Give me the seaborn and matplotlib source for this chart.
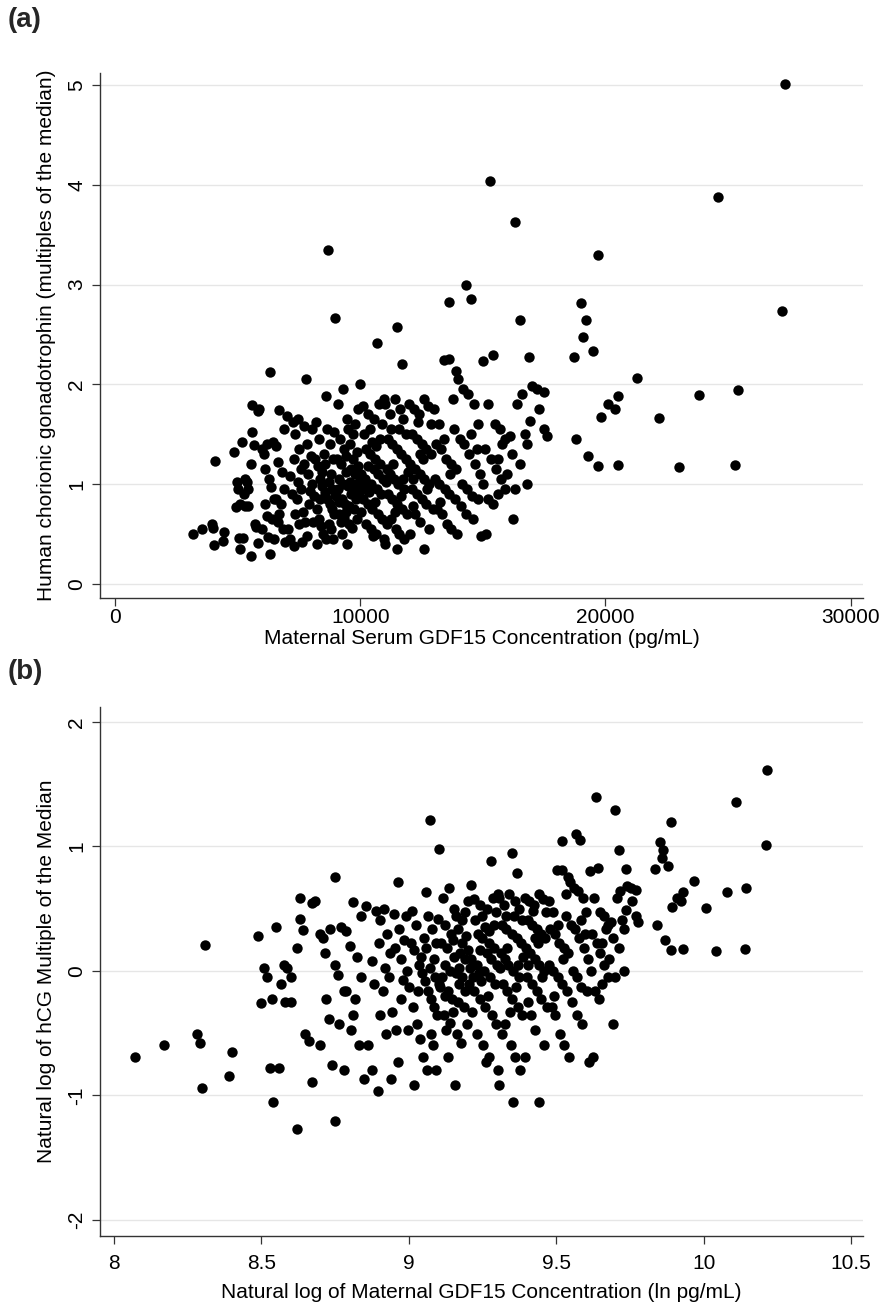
import numpy as np
import pandas as pd
import matplotlib
matplotlib.use("Agg")
import matplotlib.pyplot as plt
import seaborn as sns

# ---- data: maternal serum GDF15 (pg/mL) and hCG MoM ----
gdf15 = [
    3200, 3530, 3950, 3990, 4020, 4060, 4400, 4450, 4860, 4915, 4960, 5010, 5060, 5110,
    5160, 5210, 5260, 5320, 5370, 5430, 5430, 5540, 5600, 5600, 5660, 5770, 5830, 5830,
    5890, 6000, 6060, 6120, 6180, 6240, 6310, 6310, 6370, 6430, 6500, 6560, 6630,
    5100, 5300, 5550, 5700, 6100, 6300, 6500, 6000, 6400, 6550, 6200,
    6700, 6800, 6900, 6750, 6850, 6950, 6650, 6900, 6700, 7000, 7050, 7150, 7200, 7250,
    7300, 7320, 7350, 7420, 7450, 7480, 7500, 7520, 7580, 7620, 7650, 7700, 7720, 7750,
    7800, 7820, 7850, 7880, 7900, 7950, 7150, 7600, 7350, 7980,
    8020, 8050, 8080, 8120, 8150, 8200, 8220, 8240, 8260, 8300, 8320, 8350, 8380, 8420,
    8440, 8460, 8500, 8520, 8550, 8580, 8600, 8620, 8640, 8660, 8700, 8710, 8730, 8750,
    8780, 8800, 8820, 8840, 8860, 8880, 8900, 8920, 8950, 8980, 8990,
    9020, 9050, 9080, 9100, 9120, 9150, 9170, 9200, 9220, 9240, 9260, 9300, 9310, 9330,
    9350, 9380, 9400, 9420, 9440, 9470, 9500, 9510, 9530, 9560, 9590, 9610, 9630, 9660,
    9690, 9700, 9720, 9760, 9790, 9800, 9820, 9850, 9880, 9900, 9920, 9950, 9970, 9600,
    9150, 9450,
    10000, 10020, 10050, 10080, 10100, 10120, 10150, 10200, 10220, 10250, 10280, 10300,
    10320, 10350, 10380, 10400, 10420, 10450, 10480, 10500, 10520, 10550, 10580, 10600,
    10620, 10650, 10680, 10700, 10720, 10740, 10780, 10800, 10820, 10850, 10880, 10900,
    10920, 10950, 10970, 10990, 10300, 10650,
    11020, 11050, 11080, 11100, 11130, 11150, 11200, 11220, 11240, 11280, 11300, 11320,
    11360, 11400, 11420, 11440, 11480, 11500, 11510, 11520, 11550, 11580, 11600, 11620,
    11650, 11680, 11700, 11720, 11760, 11780, 11800, 11850, 11880, 11900, 11950, 11250,
    11750,
    12000, 12020, 12050, 12100, 12120, 12150, 12200, 12220, 12250, 12300, 12320, 12350,
    12400, 12420, 12450, 12500, 12520, 12550, 12600, 12610, 12620, 12680, 12700, 12720,
    12780, 12800, 12820, 12880, 12900, 12950, 12450, 12150,
    13020, 13050, 13100, 13150, 13200, 13220, 13250, 13300, 13320, 13400, 13420, 13450,
    13500, 13520, 13600, 13610, 13620, 13650, 13700, 13720, 13800, 13820, 13850, 13900,
    13920, 13950,
    14000, 14050, 14100, 14150, 14200, 14250, 14300, 14320, 14350, 14400, 14450, 14500,
    14520, 14550, 14600, 14620, 14700, 14750, 14800, 14820, 14900, 14920,
    15000, 15020, 15100, 15120, 15200, 15220, 15300, 15320, 15400, 15420, 15500, 15520,
    15600, 15620, 15700, 15720, 15800, 15900, 15920,
    16000, 16100, 16200, 16220, 16300, 16320, 16400, 16500, 16520, 16600, 16700, 16800,
    16820, 16900, 16920,
    17000, 17200, 17300, 17500, 17500, 17600, 18700, 18800, 19000, 19100, 19200, 19300,
    19500, 19700, 19700, 19800, 20100, 20400, 20500, 20500, 21300, 22200, 23000, 23800,
    24600, 25300, 25400, 27200, 27300,
]
hcg_mom = [
    0.50, 0.55, 0.60, 0.56, 0.39, 1.23, 0.43, 0.52, 1.32, 0.77, 1.02, 0.95, 0.46, 0.35,
    1.42, 0.46, 0.90, 0.78, 1.02, 0.95, 0.78, 0.28, 1.52, 1.79, 1.39, 0.57, 0.41, 1.73,
    1.75, 1.35, 1.30, 0.80, 0.68, 0.47, 2.12, 0.30, 0.97, 1.42, 0.45, 0.85, 1.22,
    0.80, 1.05, 1.20, 0.60, 1.15, 1.05, 0.85, 0.55, 0.65, 1.38, 1.40,
    1.74, 1.12, 0.95, 0.80, 0.55, 0.42, 0.62, 1.55, 0.70, 1.68, 0.55, 1.08, 0.90, 1.62,
    0.38, 1.25, 0.70, 0.85, 1.65, 1.02, 0.60, 1.35, 0.95, 0.42, 0.72, 1.58, 1.20, 0.62,
    2.05, 0.48, 1.40, 1.10, 0.80, 0.93, 0.45, 1.15, 1.50, 1.28,
    1.55, 1.00, 0.62, 0.88, 1.25, 1.62, 0.75, 0.40, 1.18, 1.45, 0.65, 0.85, 1.05, 0.58,
    1.12, 0.98, 0.50, 1.30, 0.92, 1.20, 1.88, 0.45, 1.55, 0.85, 3.35, 1.02, 0.60, 0.80,
    1.40, 0.55, 1.10, 0.75, 0.95, 0.45, 1.25, 0.70, 1.52, 2.67, 0.90,
    0.88, 1.25, 0.95, 1.80, 0.70, 1.05, 1.45, 0.62, 1.20, 0.85, 0.50, 1.95, 1.00, 0.66,
    1.35, 0.80, 1.28, 0.72, 1.12, 0.40, 1.55, 0.98, 0.60, 0.78, 1.40, 0.90, 1.15, 0.56,
    1.50, 0.95, 1.25, 0.75, 1.60, 1.10, 0.85, 1.32, 0.65, 1.75, 1.18, 0.90, 1.02, 1.02,
    0.82, 1.65,
    2.00, 1.10, 0.72, 0.95, 1.78, 0.85, 1.50, 1.05, 0.60, 1.35, 0.98, 1.70,
    0.80, 0.92, 1.55, 1.30, 0.55, 1.00, 1.42, 0.75, 0.48, 1.65, 1.15, 0.82,
    1.25, 0.50, 0.95, 2.41, 1.10, 0.70, 1.80, 1.20, 1.45, 0.90, 1.60, 0.65,
    1.05, 1.85, 0.45, 0.40, 1.18, 1.38,
    1.80, 1.02, 1.15, 0.60, 1.45, 0.90, 1.70, 1.10, 0.65, 1.40, 0.85, 1.20,
    1.05, 1.85, 0.72, 0.55, 1.35, 2.58, 0.80, 0.35, 1.00, 1.55, 0.50, 1.75,
    0.88, 1.30, 2.20, 0.75, 1.65, 0.95, 0.45, 1.25, 1.50, 0.70, 1.12, 1.55,
    1.05,
    1.80, 0.50, 1.20, 0.95, 1.50, 0.78, 1.75, 1.15, 0.70, 1.45, 0.90, 1.62,
    1.70, 1.10, 0.62, 1.40, 0.85, 1.25, 1.85, 1.05, 0.35, 1.35, 0.80, 0.95,
    1.78, 1.00, 0.55, 1.30, 1.60, 0.75, 1.30, 1.05,
    1.75, 1.05, 1.40, 0.75, 1.60, 1.00, 0.82, 1.35, 0.70, 2.24, 1.45, 0.95,
    1.25, 0.60, 2.25, 2.83, 0.90, 1.10, 1.20, 0.55, 1.85, 1.55, 0.85, 2.13,
    1.15, 0.50,
    2.05, 1.45, 0.78, 1.00, 1.95, 1.40, 3.00, 0.70, 0.95, 1.90, 1.30, 2.86,
    1.50, 0.88, 0.65, 1.80, 1.20, 1.35, 1.60, 0.85, 1.10, 0.48,
    2.23, 1.00, 1.35, 0.50, 1.80, 0.85, 4.04, 1.25, 2.29, 0.80, 1.60, 1.15,
    0.90, 1.25, 1.55, 1.05, 1.40, 1.45, 0.95,
    1.10, 1.48, 1.30, 0.65, 3.63, 0.95, 1.80, 2.65, 1.20, 1.90, 1.50, 1.00,
    1.40, 2.27, 1.63,
    1.98, 1.95, 1.75, 1.92, 1.55, 1.48, 2.27, 1.45, 2.82, 2.47, 2.65, 1.28,
    2.33, 3.30, 1.18, 1.67, 1.80, 1.75, 1.88, 1.19, 2.06, 1.66, 1.17, 1.89,
    3.88, 1.19, 1.94, 2.74, 5.01,
]

xticks_a = [0, 10000, 20000, 30000]
yticks_a = [0, 1, 2, 3, 4, 5]
xticks_b = [8, 8.5, 9, 9.5, 10, 10.5]
yticks_b = [-2, -1, 0, 1, 2]
xtick_labels_b = ["8", "8.5", "9", "9.5", "10", "10.5"]
ytick_labels_b = ["-2", "-1", "0", "1", "2"]

xlabel_a = "Maternal Serum GDF15 Concentration (pg/mL)"
ylabel_a = "Human chorionic gonadotrophin (multiples of the median)"
xlabel_b = "Natural log of Maternal GDF15 Concentration (ln pg/mL)"
ylabel_b = "Natural log of hCG Multiple of the Median"

df = pd.DataFrame({"gdf15": gdf15, "hcg": hcg_mom})
df["ln_gdf15"] = np.log(df["gdf15"])
df["ln_hcg"] = np.log(df["hcg"])

sns.set_theme(style="white")
plt.rcParams["font.family"] = ["Liberation Sans", "DejaVu Sans"]
plt.rcParams["axes.unicode_minus"] = False

W, H = 882, 1308
fig = plt.figure(figsize=(W / 100, H / 100), dpi=100)
fig.patch.set_facecolor("white")

def px_axes(left, top, right, bottom):
    return fig.add_axes([left / W, 1 - bottom / H, (right - left) / W, (bottom - top) / H])

ax_a = px_axes(100, 73, 863, 598)
ax_b = px_axes(100, 707, 863, 1236)

FS = 15

def style(ax, xticks, yticks, xlim, ylim, xlabel, ylabel, xpad, xlabelpad,
          xtl=None, ytl=None):
    ax.set_xlim(*xlim)
    ax.set_ylim(*ylim)
    ax.set_xticks(xticks)
    ax.set_yticks(yticks)
    if xtl is not None:
        ax.set_xticklabels(xtl)
    if ytl is not None:
        ax.set_yticklabels(ytl)
    ax.grid(axis="y", color="#e6e6e6", linewidth=1.0)
    ax.grid(axis="x", visible=False)
    ax.set_axisbelow(True)
    for s in ["top", "right"]:
        ax.spines[s].set_visible(False)
    for s in ["left", "bottom"]:
        ax.spines[s].set_color("#333333")
        ax.spines[s].set_linewidth(1.0)
    ax.tick_params(axis="both", which="major", direction="out", length=6, width=0.9,
                   color="#333333", labelsize=FS, labelcolor="black", left=True, bottom=True)
    ax.tick_params(axis="x", pad=xpad)
    ax.tick_params(axis="y", pad=4)
    for lbl in ax.get_yticklabels():
        lbl.set_rotation(90)
        lbl.set_va("center")
    ax.set_xlabel(xlabel, fontsize=FS, color="black", labelpad=xlabelpad)
    ax.set_ylabel(ylabel, fontsize=FS, color="black", labelpad=8)
    ax.set_facecolor("white")

sns.scatterplot(data=df, x="gdf15", y="hcg", ax=ax_a, color="black", s=56,
                edgecolor="black", linewidth=0, legend=False)
style(ax_a, xticks_a, yticks_a, (-610, 30500), (-0.14, 5.12), xlabel_a, ylabel_a,
      xpad=1.5, xlabelpad=1.5)

sns.scatterplot(data=df, x="ln_gdf15", y="ln_hcg", ax=ax_b, color="black", s=56,
                edgecolor="black", linewidth=0, legend=False)
style(ax_b, xticks_b, yticks_b, (7.953, 10.54), (-2.13, 2.12), xlabel_b, ylabel_b,
      xpad=7, xlabelpad=7, xtl=xtick_labels_b, ytl=ytick_labels_b)

fig.text(8 / W, 1 - 20 / H, "(a)", fontsize=20, fontweight="bold", va="center", ha="left")
fig.text(8 / W, 1 - 672 / H, "(b)", fontsize=20, fontweight="bold", va="center", ha="left")

fig.savefig("out.png", dpi=100, facecolor="white")
